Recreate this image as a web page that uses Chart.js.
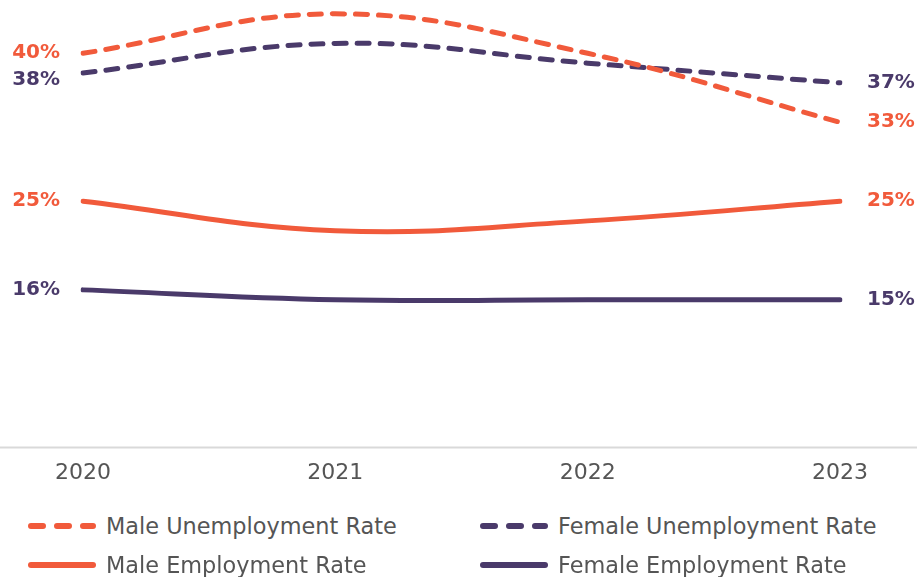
<!DOCTYPE html>
<html lang="en">
<head>
  <meta charset="UTF-8" />
  <title>Employment and Unemployment Rates</title>
  <script src="https://cdn.jsdelivr.net/npm/chart.js"></script>
  <style>
    body { margin: 0; background: #fff; font-family: "DejaVu Sans", sans-serif; }
    .wrap { position: relative; width: 917px; height: 577px; overflow: hidden; }
    .chart-box { position: absolute; left: 0; top: 0; width: 917px; height: 490px; }
    .legend { position: absolute; left: 0; top: 506px; width: 917px; }
    .legend .item { position: absolute; display: flex; align-items: center; color: #555; font-size: 22.4px; white-space: nowrap; }
    .legend canvas { margin-right: 10px; }
  </style>
</head>
<body>
  <div class="wrap">
    <div class="chart-box"><canvas id="rates"></canvas></div>
    <div class="legend" id="legend"></div>
  </div>

  <script>
    const years = ['2020', '2021', '2022', '2023'];
    const seriesNames = ['Male Unemployment Rate', 'Female Unemployment Rate', 'Male Employment Rate', 'Female Employment Rate'];
    const maleUnemployment = [40, 44, 40, 33];
    const femaleUnemployment = [38, 41, 39, 37];
    const maleEmployment = [25, 22, 23, 25];
    const femaleEmployment = [16, 15, 15, 15];

    const orange = '#f15a3b';
    const purple = '#4a3a6a';

    const series = [
      { label: seriesNames[0], data: maleUnemployment, color: orange, dashed: true },
      { label: seriesNames[1], data: femaleUnemployment, color: purple, dashed: true },
      { label: seriesNames[2], data: maleEmployment, color: orange, dashed: false },
      { label: seriesNames[3], data: femaleEmployment, color: purple, dashed: false }
    ];

    // full width baseline + value labels at both ends
    const endLabels = {
      id: 'endLabels',
      afterDatasetsDraw(chart) {
        const ctx = chart.ctx;
        const area = chart.chartArea;
        ctx.save();
        ctx.strokeStyle = '#d9d9d9';
        ctx.lineWidth = 2;
        ctx.beginPath();
        ctx.moveTo(0, area.bottom);
        ctx.lineTo(chart.width, area.bottom);
        ctx.stroke();

        ctx.font = 'bold 20px "DejaVu Sans"';
        ctx.textBaseline = 'middle';
        [0, years.length - 1].forEach(idx => {
          const items = chart.data.datasets.map((ds, i) => {
            const pt = chart.getDatasetMeta(i).data[idx];
            return { x: pt.x, y: pt.y, text: ds.data[idx] + '%', color: ds.borderColor };
          }).sort((a, b) => a.y - b.y);
          for (let k = 1; k < items.length; k++) {
            if (items[k].y - items[k - 1].y < 27) items[k].y = items[k - 1].y + 27;
          }
          items.forEach(it => {
            ctx.fillStyle = it.color;
            if (idx === 0) {
              ctx.textAlign = 'right';
              ctx.fillText(it.text, it.x - 23, it.y);
            } else {
              ctx.textAlign = 'left';
              ctx.fillText(it.text, it.x + 27, it.y);
            }
          });
        });
        ctx.restore();
      }
    };

    new Chart(document.getElementById('rates'), {
      type: 'line',
      data: {
        labels: years,
        datasets: series.map(s => ({
          label: s.label,
          data: s.data,
          borderColor: s.color,
          borderWidth: 5,
          borderDash: s.dashed ? [12, 11] : [],
          borderCapStyle: 'round',
          tension: 0.4,
          pointRadius: 0,
          fill: false
        }))
      },
      options: {
        responsive: true,
        maintainAspectRatio: false,
        animation: false,
        layout: { padding: { left: 83, right: 77, top: 4, bottom: 0 } },
        plugins: { legend: { display: false }, tooltip: { enabled: false } },
        scales: {
          x: {
            offset: false,
            grid: { display: false },
            border: { display: false },
            ticks: { color: '#555', font: { family: 'DejaVu Sans', size: 22 }, padding: 4 }
          },
          y: { display: false, min: 0, max: 45 }
        }
      },
      plugins: [endLabels]
    });

    // html legend, two columns
    const legend = document.getElementById('legend');
    series.forEach((s, i) => {
      const item = document.createElement('div');
      item.className = 'item';
      item.style.left = (i % 2 === 0 ? 28 : 480) + 'px';
      item.style.top = (i < 2 ? 0 : 39) + 'px';
      const c = document.createElement('canvas');
      c.width = 68; c.height = 40;
      const g = c.getContext('2d');
      g.strokeStyle = s.color;
      g.lineWidth = 6;
      g.lineCap = 'round';
      g.beginPath();
      if (s.dashed) g.setLineDash([12, 14]);
      g.moveTo(3, 20);
      g.lineTo(65, 20);
      g.stroke();
      item.appendChild(c);
      const t = document.createElement('span');
      t.textContent = s.label;
      item.appendChild(t);
      legend.appendChild(item);
    });
  </script>
</body>
</html>
